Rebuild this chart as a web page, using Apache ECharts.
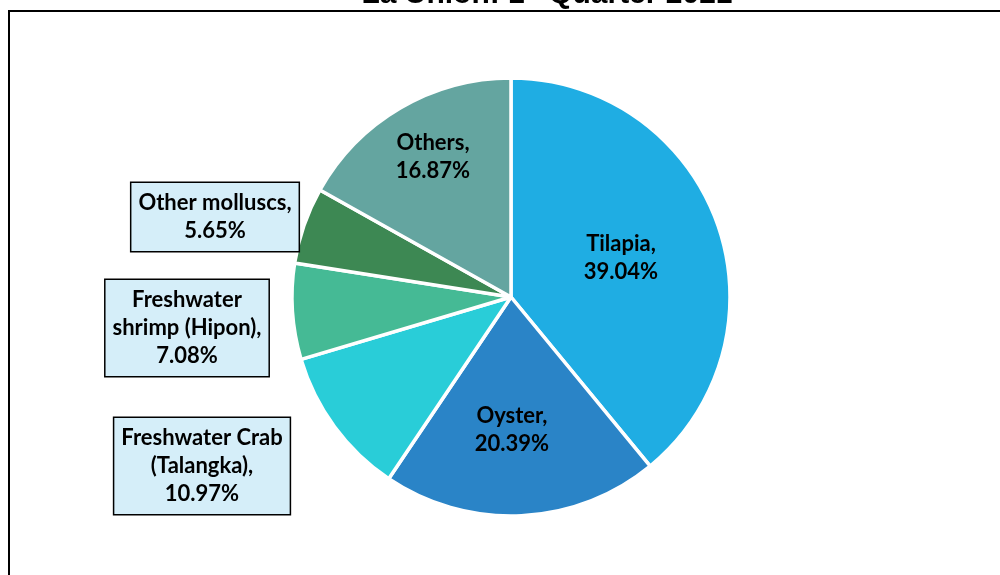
<!DOCTYPE html>
<html>
<head>
<meta charset="utf-8">
<script src="https://cdn.jsdelivr.net/npm/echarts@6/dist/echarts.min.js"></script>
<style>
  html, body { margin: 0; padding: 0; background: #fff; }
  #main { width: 1000px; height: 575px; }
</style>
</head>
<body>
<div id="main"></div>
<script>
// species share of production, clockwise from 12 o'clock
var categories = ['Tilapia', 'Oyster', 'Freshwater Crab\n(Talangka)', 'Freshwater\nshrimp (Hipon)', 'Other molluscs', 'Others'];
var shares = [39.04, 20.39, 10.97, 7.08, 5.65, 16.87];
var colors = ['#1FADE3', '#2A84C7', '#29CDD8', '#45BA95', '#3D8853', '#64A5A0'];

// where each label sits (the boxed ones are pulled out to the left)
var labelSpots = {
  'Tilapia': [621, 258],
  'Oyster': [512, 430],
  'Freshwater Crab\n(Talangka)': [202, 466],
  'Freshwater\nshrimp (Hipon)': [187, 328],
  'Other molluscs': [215, 217],
  'Others': [433, 157]
};
var boxed = ['Freshwater Crab\n(Talangka)', 'Freshwater\nshrimp (Hipon)', 'Other molluscs'];

var chart = echarts.init(document.getElementById('main'));

var pieData = categories.map(function (name, i) {
  var item = { name: name, value: shares[i], itemStyle: { color: colors[i] } };
  if (boxed.indexOf(name) >= 0) {
    item.label = {
      position: 'outside',
      backgroundColor: '#D5EEF9',
      borderColor: '#000',
      borderWidth: 1.5,
      padding: [6, 7, 6, 7]
    };
    item.labelLine = { show: false };
  }
  return item;
});

chart.setOption({
  animation: false,
  title: {
    text: 'La Union: 1{sup|st} Quarter 2021',
    left: 542,
    textAlign: 'center',
    top: -25,
    textStyle: {
      fontFamily: 'Liberation Sans',
      fontWeight: 'bold',
      fontSize: 30,
      color: '#000',
      rich: {
        sup: { fontFamily: 'Liberation Sans', fontWeight: 'bold', fontSize: 18, color: '#000', verticalAlign: 'top', padding: [0, 0, 12, 0] }
      }
    }
  },
  graphic: [{
    type: 'rect',
    shape: { x: 9, y: 11, width: 1200, height: 800 },
    style: { fill: 'none', stroke: '#000', lineWidth: 2 },
    silent: true
  }],
  series: [{
    type: 'pie',
    center: [511, 297],
    radius: [0, 219],
    startAngle: 90,
    clockwise: true,
    itemStyle: { borderColor: '#fff', borderWidth: 3.5 },
    label: {
      show: true,
      position: 'inside',
      fontFamily: 'Lato',
      fontWeight: 'bold',
      fontSize: 22,
      lineHeight: 28,
      color: '#000',
      align: 'center',
      formatter: function (p) {
        var parts = p.name.split('\n');
        parts[parts.length - 1] += ',';
        return parts.join('\n') + '\n' + p.value.toFixed(2) + '%';
      }
    },
    labelLayout: function (params) {
      var name = categories[params.dataIndex];
      var spot = labelSpots[name];
      return { x: spot[0], y: spot[1], align: 'center', verticalAlign: 'middle' };
    },
    data: pieData
  }]
});
</script>
</body>
</html>
